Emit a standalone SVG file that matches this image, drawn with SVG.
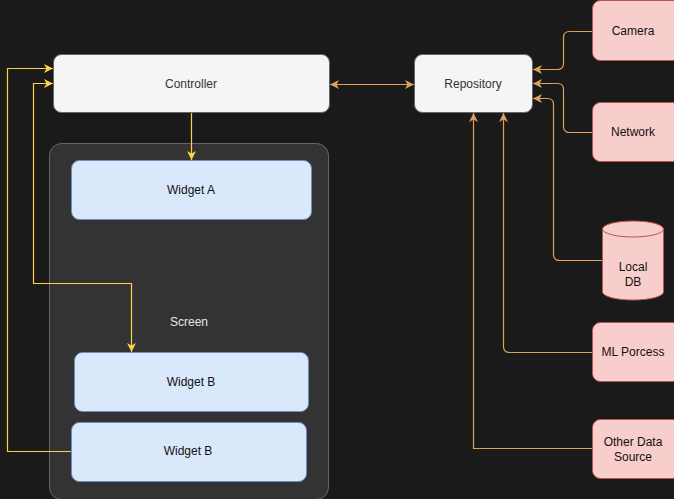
<svg xmlns="http://www.w3.org/2000/svg" width="674" height="499" viewBox="0 0 674 499">
  <style>
    text { font-family: "Liberation Sans", Arial, sans-serif; font-size: 12px; text-anchor: middle; dominant-baseline: central; }
    .grey { fill: #f5f5f5; stroke: #666666; stroke-width: 1; }
    .blue { fill: #dae8fc; stroke: #6c8ebf; stroke-width: 1; }
    .pink { fill: #f8cecc; stroke: #b85450; stroke-width: 1; }
    .screen { fill: #333333; stroke: #666666; stroke-width: 1; }
    .dark { fill: #333333; }
    .black { fill: #111111; }
    .light { fill: #e6e6e6; }
    .y { fill: none; stroke: #ffcf4a; stroke-width: 1.2; }
    .o { fill: none; stroke: #dfa05a; stroke-width: 1.2; }
  </style>
  <defs>
    <marker id="ay" markerUnits="userSpaceOnUse" markerWidth="11" markerHeight="11" refX="9" refY="4.5" orient="auto-start-reverse" viewBox="0 0 11 9">
      <path d="M0,0 L9,4.5 L0,9 L2.5,4.5 Z" fill="#ffcf4a"/>
    </marker>
    <marker id="ao" markerUnits="userSpaceOnUse" markerWidth="11" markerHeight="11" refX="9" refY="4.5" orient="auto-start-reverse" viewBox="0 0 11 9">
      <path d="M0,0 L9,4.5 L0,9 L2.5,4.5 Z" fill="#dfa05a"/>
    </marker>
  </defs>

  <rect width="674" height="499" fill="#1a1a1a"/>

  <g id="screen">
    <rect class="screen" x="49.5" y="143.5" width="279" height="356" rx="12"/>
    <text class="light" x="189" y="322">Screen</text>
  </g>

  <g id="controller">
    <rect class="grey" x="53.5" y="54.5" width="276" height="58" rx="8"/>
    <text class="dark" x="191" y="84">Controller</text>
  </g>

  <g id="repository">
    <rect class="grey" x="414.5" y="54.5" width="118" height="58" rx="8"/>
    <text class="dark" x="473" y="84">Repository</text>
  </g>

  <g id="widget-a">
    <rect class="blue" x="71.5" y="160.5" width="240" height="59" rx="8"/>
    <text class="black" x="191" y="190">Widget A</text>
  </g>

  <g id="widget-b1">
    <rect class="blue" x="74.5" y="352.5" width="234" height="59" rx="8"/>
    <text class="black" x="191" y="382">Widget B</text>
  </g>

  <g id="widget-b2">
    <rect class="blue" x="71.5" y="422.5" width="235" height="59" rx="8"/>
    <text class="black" x="188" y="451">Widget B</text>
  </g>

  <g id="camera">
    <rect class="pink" x="592.5" y="0.5" width="88" height="60" rx="8"/>
    <text class="black" x="633" y="31">Camera</text>
  </g>

  <g id="network">
    <rect class="pink" x="592.5" y="102.5" width="88" height="59" rx="8"/>
    <text class="black" x="633" y="132">Network</text>
  </g>

  <g id="local-db">
    <path class="pink" d="M602.5,229 A30.5,8 0 0 1 663.5,229 L663.5,292 A30.5,8 0 0 1 602.5,292 Z"/>
    <path d="M602.5,229 A30.5,8 0 0 0 663.5,229" fill="none" stroke="#b85450"/>
    <text class="black" x="633" y="267">Local</text>
    <text class="black" x="633" y="282">DB</text>
  </g>

  <g id="ml-process">
    <rect class="pink" x="592.5" y="322.5" width="88" height="59" rx="8"/>
    <text class="black" x="633" y="352">ML Porcess</text>
  </g>

  <g id="other-source">
    <rect class="pink" x="592.5" y="419.5" width="88" height="59" rx="8"/>
    <text class="black" x="633" y="442">Other Data</text>
    <text class="black" x="633" y="457">Source</text>
  </g>

  <g id="connectors">
    <!-- controller to widget A -->
    <path class="y" d="M191.5,113 L191.5,160" marker-end="url(#ay)"/>
    <!-- widget B (lower) back to controller -->
    <path class="y" d="M71,451.5 L7.5,451.5 L7.5,68.5 L53,68.5" marker-end="url(#ay)"/>
    <!-- controller to widget B (upper) -->
    <path class="y" d="M53,83.5 L33.5,83.5 L33.5,283.5 L131.5,283.5 L131.5,352" marker-start="url(#ay)" marker-end="url(#ay)"/>
    <!-- controller to repository -->
    <path class="o" d="M330,84.5 L414,84.5" marker-start="url(#ao)" marker-end="url(#ao)"/>
    <!-- data sources into repository -->
    <path class="o" d="M592,31.5 L569.5,31.5 Q563.5,31.5 563.5,37.5 L563.5,63.5 Q563.5,69.5 557.5,69.5 L533,69.5" marker-end="url(#ao)"/>
    <path class="o" d="M592,132.5 L569.5,132.5 Q563.5,132.5 563.5,126.5 L563.5,89.5 Q563.5,83.5 557.5,83.5 L533,83.5" marker-end="url(#ao)"/>
    <path class="o" d="M602,260.5 L559.5,260.5 Q553.5,260.5 553.5,254.5 L553.5,104.5 Q553.5,98.5 547.5,98.5 L533,98.5" marker-end="url(#ao)"/>
    <path class="o" d="M592,352.5 L509.5,352.5 Q503.5,352.5 503.5,346.5 L503.5,113" marker-end="url(#ao)"/>
    <path class="o" d="M592,448.5 L473.5,448.5 L473.5,113" marker-end="url(#ao)"/>
  </g>
</svg>
